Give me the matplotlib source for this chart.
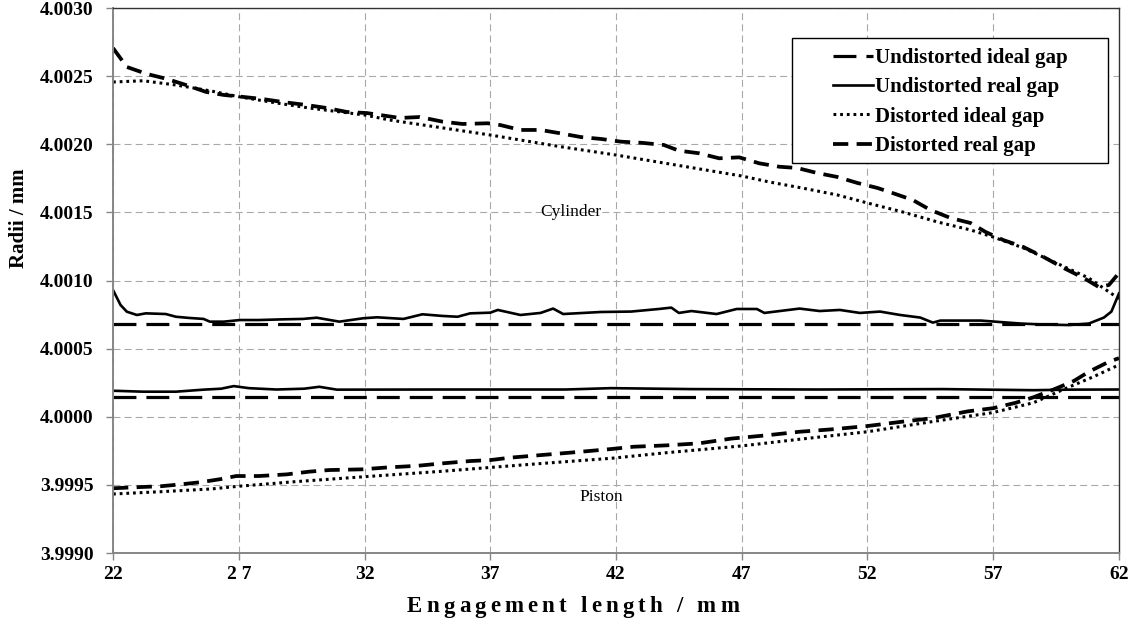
import matplotlib
matplotlib.use("Agg")
import matplotlib.pyplot as plt
from matplotlib.font_manager import FontProperties
from matplotlib.transforms import IdentityTransform
from matplotlib.patches import Rectangle

plt.rcParams['font.family'] = ['Liberation Serif', 'DejaVu Serif']
plt.rcParams['lines.scale_dashes'] = False

# ---------------- data ----------------
x_ticks = [22, 27, 32, 37, 42, 47, 52, 57, 62]
x_tick_labels = ["22", "2 7", "32", "37", "42", "47", "52", "57", "62"]
y_ticks = [3.9990, 3.9995, 4.0000, 4.0005, 4.0010, 4.0015, 4.0020, 4.0025, 4.0030]
y_tick_labels = ["3.9990", "3.9995", "4.0000", "4.0005", "4.0010", "4.0015", "4.0020", "4.0025", "4.0030"]

# Undistorted ideal gap (constant radii)
ideal_x = [22, 62]
ideal_cyl = [4.000684, 4.000684]
ideal_pis = [4.000147, 4.000147]

# Undistorted real gap - cylinder
ureal_cyl_x = [22, 22.3, 22.55, 22.95, 23.3, 24.1, 24.5, 25.05, 25.6, 25.85, 26.4, 27.05, 27.8,
               28.75, 29.55, 30.1, 31.0, 31.95, 32.5, 33.55, 34.3, 35.1, 35.7, 36.2, 37.0, 37.3,
               38.2, 39.0, 39.5, 39.9, 41.4, 42.6, 43.7, 44.2, 44.5, 45.0, 46.0, 46.8, 47.6, 47.9,
               49.3, 50.1, 50.9, 51.7, 52.5, 53.3, 54.1, 54.6, 54.9, 56.5, 58.1, 59.0, 60.0, 60.8,
               61.4, 61.7, 62.0]
ureal_cyl = [4.000930, 4.000820, 4.000771, 4.000747, 4.000759, 4.000754, 4.000734, 4.000725,
             4.000718, 4.000698, 4.000698, 4.000710, 4.000710, 4.000715, 4.000718, 4.000727,
             4.000698, 4.000723, 4.000730, 4.000718, 4.000752, 4.000740, 4.000734, 4.000759,
             4.000764, 4.000784, 4.000747, 4.000762, 4.000794, 4.000754, 4.000769, 4.000772,
             4.000791, 4.000801, 4.000762, 4.000776, 4.000754, 4.000791, 4.000791, 4.000762,
             4.000794, 4.000776, 4.000784, 4.000762, 4.000772, 4.000747, 4.000728, 4.000691,
             4.000706, 4.000706, 4.000684, 4.000677, 4.000673, 4.000684, 4.000728, 4.000772,
             4.000905]

# Undistorted real gap - piston
ureal_pis_x = [22, 23.2, 24.5, 25.6, 26.3, 26.8, 27.4, 28.5, 29.6, 30.2, 30.9, 35, 40, 41.8,
               45, 50, 55, 58.6, 60, 62]
ureal_pis = [4.000191, 4.000184, 4.000184, 4.000199, 4.000206, 4.000225, 4.000210, 4.000200,
             4.000206, 4.000220, 4.000199, 4.000200, 4.000200, 4.000210, 4.000203, 4.000200,
             4.000203, 4.000195, 4.000199, 4.000200]

# Distorted ideal gap - cylinder
dideal_cyl_x = [22, 23.2, 24.5, 25.9, 27, 28.5, 29.8, 32, 33, 37, 39.8, 42, 47, 48.1, 49.4,
                50.8, 52, 53.4, 54.8, 56.1, 57, 58.2, 59.5, 60.8, 61.9, 62]
dideal_cyl = [4.002457, 4.002466, 4.002435, 4.002391, 4.002349, 4.002303, 4.002266, 4.002215,
              4.002178, 4.002068, 4.001982, 4.001921, 4.001767, 4.001723, 4.001679, 4.001628,
              4.001569, 4.001503, 4.001429, 4.001371, 4.001319, 4.001239, 4.001129, 4.001018,
              4.000879, 4.000864]

# Distorted ideal gap - piston
dideal_pis_x = [22, 23.9, 25.9, 27, 29.2, 32, 35.1, 37, 39.1, 41.8, 44, 47, 49.3, 52, 54.6,
                57, 58.6, 59.9, 61, 61.85, 62]
dideal_pis = [3.999433, 3.999450, 3.999470, 3.999490, 3.999523, 3.999560, 3.999600, 3.999628,
              3.999658, 3.999695, 3.999736, 3.999786, 3.999835, 3.999890, 3.999965, 4.000031,
              4.000103, 4.000209, 4.000295, 4.000368, 4.000380]

# Distorted real gap - cylinder
dreal_cyl_x = [22, 22.55, 23.35, 24.15, 24.9, 25.7, 26.4, 27.2, 27.95, 28.75, 29.7, 30.5, 31.3,
               32.1, 32.9, 33.4, 34.2, 35.1, 35.9, 36.9, 37.4, 38.2, 39.0, 39.8, 40.6, 41.4,
               42.2, 43.0, 43.9, 44.5, 45.3, 46.1, 46.9, 47.7, 48.5, 49.2, 50.0, 50.8, 51.6,
               52.4, 53.0, 53.8, 54.5, 55.3, 56.1, 56.7, 57.4, 58.2, 59.0, 59.8, 60.6, 61.2,
               61.6, 62.0]
dreal_cyl = [4.002706, 4.002567, 4.002516, 4.002479, 4.002435, 4.002384, 4.002362, 4.002347,
             4.002332, 4.002310, 4.002288, 4.002266, 4.002237, 4.002229, 4.002207, 4.002193,
             4.002200, 4.002166, 4.002149, 4.002154, 4.002141, 4.002105, 4.002105, 4.002080,
             4.002053, 4.002039, 4.002019, 4.002011, 4.001995, 4.001953, 4.001934, 4.001897,
             4.001904, 4.001860, 4.001835, 4.001826, 4.001789, 4.001760, 4.001716, 4.001679,
             4.001642, 4.001591, 4.001518, 4.001459, 4.001422, 4.001356, 4.001297, 4.001246,
             4.001173, 4.001092, 4.001018, 4.000952, 4.000967, 4.001055]

# Distorted real gap - piston
dreal_pis_x = [22, 22.8, 23.9, 24.7, 25.5, 26.3, 26.9, 27.8, 28.9, 29.8, 30.6, 31.9, 32.9, 34.1,
               35.1, 36.2, 37.0, 37.8, 39.1, 40.4, 41.8, 42.7, 44.0, 45.3, 46.6, 48.0, 49.3,
               50.6, 52.0, 53.3, 54.6, 56.0, 57.0, 57.9, 58.6, 59.4, 60.2, 60.8, 61.6, 62.0]
dreal_pis = [3.999475, 3.999482, 3.999490, 3.999504, 3.999520, 3.999543, 3.999565, 3.999565,
             3.999577, 3.999597, 3.999609, 3.999614, 3.999628, 3.999640, 3.999658, 3.999675,
             3.999682, 3.999700, 3.999720, 3.999740, 3.999763, 3.999780, 3.999790, 3.999805,
             3.999840, 3.999864, 3.999890, 3.999908, 3.999932, 3.999962, 3.999990, 4.000040,
             4.000063, 4.000103, 4.000143, 4.000200, 4.000262, 4.000330, 4.000404, 4.000430]

series_labels = ["Undistorted ideal gap", "Undistorted real gap", "Distorted ideal gap", "Distorted real gap"]
x_title = "Engagement length / mm"
y_title = "Radii / mm"
region_labels = ["Cylinder", "Piston"]

# ---------------- figure ----------------
W, H = 1136, 631
fig = plt.figure(figsize=(W / 100, H / 100), dpi=100)
ax = fig.add_axes([0.0995, 0.1236, 0.8855, 0.8637])

ls_ideal = (0, (16.5, 7.2))
ls_dreal = (0, (11.0, 6.0))
ls_dot = (0, (2.0, 2.8))

l1, = ax.plot(ideal_x, ideal_cyl, color='black', lw=2.3, linestyle=ls_ideal, label=series_labels[0])
ax.plot(ideal_x, ideal_pis, color='black', lw=2.3, linestyle=ls_ideal)
l2, = ax.plot(ureal_cyl_x, ureal_cyl, color='black', lw=1.9, label=series_labels[1])
ax.plot(ureal_pis_x, ureal_pis, color='black', lw=1.9)
l3, = ax.plot(dideal_cyl_x, dideal_cyl, color='black', lw=2.2, linestyle=ls_dot, label=series_labels[2])
ax.plot(dideal_pis_x, dideal_pis, color='black', lw=2.2, linestyle=ls_dot)
l4, = ax.plot(dreal_cyl_x, dreal_cyl, color='black', lw=2.7, linestyle=ls_dreal, label=series_labels[3])
ax.plot(dreal_pis_x, dreal_pis, color='black', lw=2.7, linestyle=ls_dreal)

ax.set_xlim(22, 62)
ax.set_ylim(3.9990, 4.0030)
ax.set_xticks(x_ticks)
ax.set_xticklabels(x_tick_labels, fontsize=14, fontweight='bold')
ax.set_yticks(y_ticks)
ax.set_yticklabels(y_tick_labels, fontsize=14, fontweight='bold')
ax.tick_params(axis='both', direction='out', length=5, width=1, color='#868686')
ax.tick_params(axis='y', pad=9)
ax.tick_params(axis='x', pad=4)

ax.grid(True, color='#a8a8a8', linestyle=(0, (5, 3)), linewidth=0.8)
ax.set_axisbelow(True)

for s in ['left', 'bottom']:
    ax.spines[s].set_color('#868686')
    ax.spines[s].set_linewidth(1.4)
for s in ['top', 'right']:
    ax.spines[s].set_color('#333333')
    ax.spines[s].set_linewidth(1.0)

# y title (placed like the reference, above the axis middle)
fig.text(19 / W, 1 - 218 / H, y_title, fontsize=15, fontweight='bold',
         rotation=90, ha='center', va='center')

# x title, slightly letter-spaced as in the reference
fp = FontProperties(family='Liberation Serif', weight='bold', size=16.5)
renderer = fig.canvas.get_renderer()


def _w(t):
    tt = fig.text(0, 0, t, fontproperties=fp)
    bb = tt.get_window_extent(renderer)
    tt.remove()
    return bb.width


base = _w("aa")
adv = [_w("a" + ch + "a") - base for ch in x_title]
target_w = 332.0
extra = (target_w - sum(adv)) / (len(x_title) - 1)
xc, yc = 573.0, H - 607.0
cur = xc - target_w / 2
for ch, a in zip(x_title, adv):
    if ch != ' ':
        fig.text(cur + a / 2, yc, ch, fontproperties=fp, ha='center', va='center',
                 transform=IdentityTransform())
    cur += a + extra

ax.text(40.2, 4.0015, region_labels[0], fontsize=12.5, ha='center', va='center')
ax.text(41.4, 3.99941, region_labels[1], fontsize=12.5, ha='center', va='center')


# legend box (wider than its content, as in the reference)
def px2ax(xp, yp):
    return (xp - 113) / 1006, (553 - yp) / 545


bx0, by0 = px2ax(792, 163)
bx1, by1 = px2ax(1108, 38)
ax.add_patch(Rectangle((bx0, by0), bx1 - bx0, by1 - by0, transform=ax.transAxes,
                       facecolor='white', edgecolor='black', lw=1.0, zorder=4))

lx, ly = px2ax(833, 48)
leg = ax.legend(handles=[l1, l2, l3, l4], loc='upper left', bbox_to_anchor=(lx, ly),
                prop={'family': 'Liberation Serif', 'weight': 'bold', 'size': 15},
                frameon=False, handlelength=1.92, handletextpad=0.1, labelspacing=0.45,
                borderpad=0, borderaxespad=0)
leg.set_zorder(5)

fig.savefig("out.png", dpi=100)
